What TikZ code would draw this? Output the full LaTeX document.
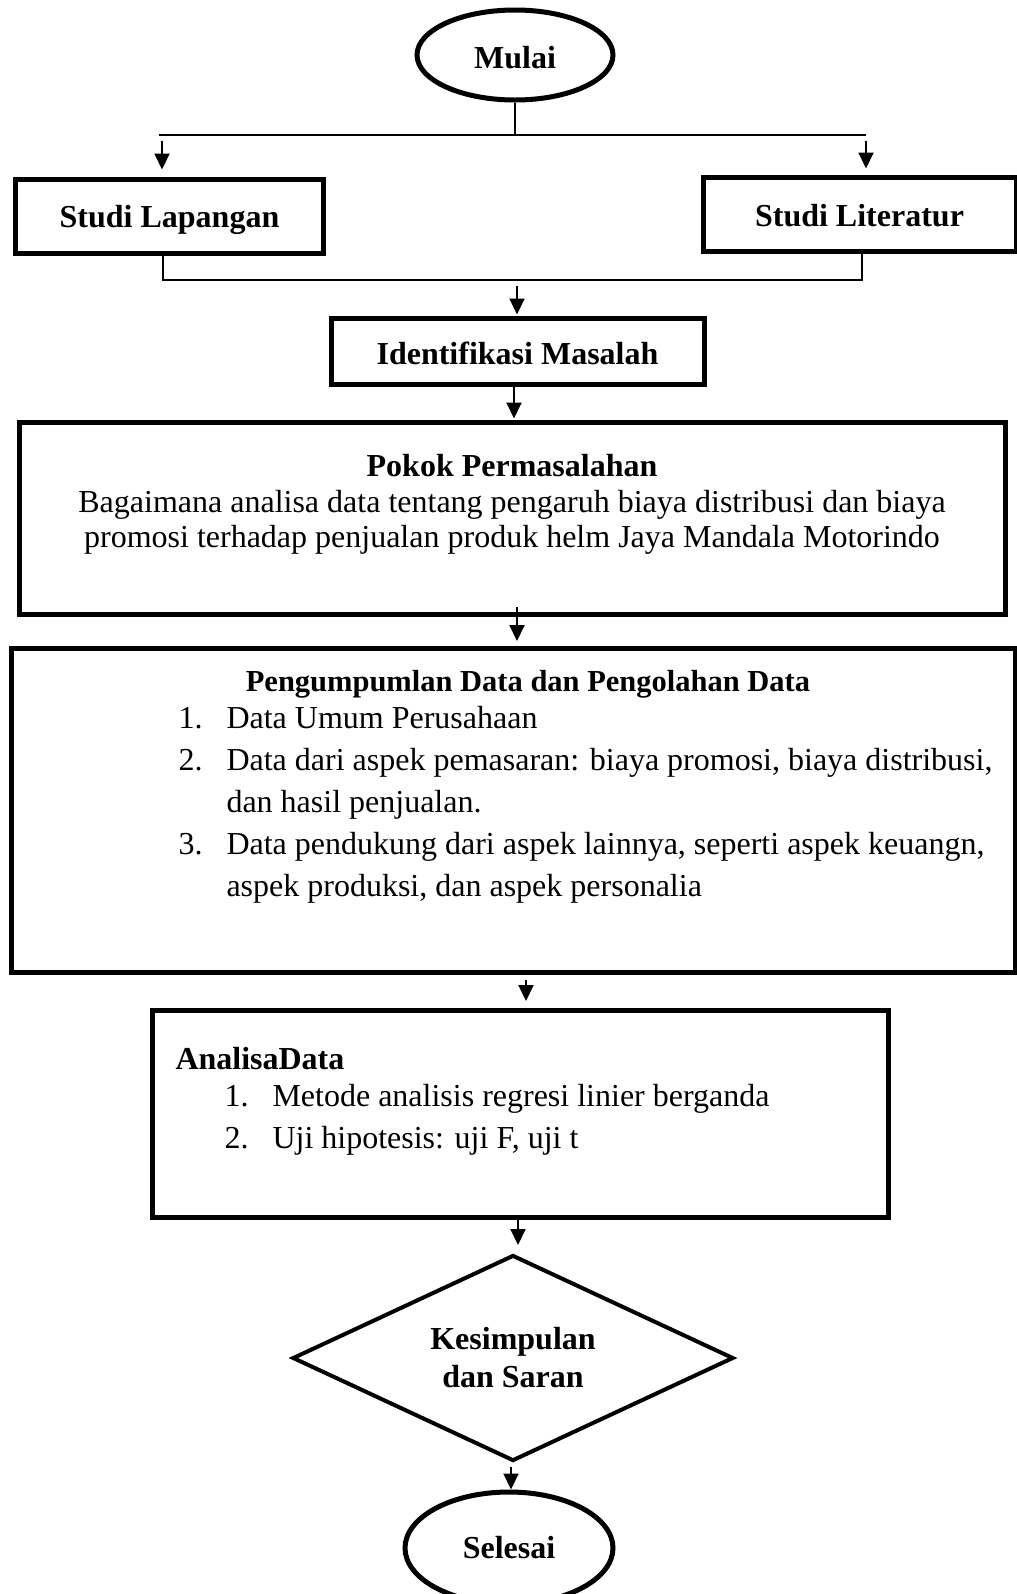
\documentclass[tikz,border=0pt]{standalone}
\usepackage{fontspec}
\setmainfont{Liberation Serif}
\usetikzlibrary{shapes.geometric,arrows.meta,calc}

% lower a label inside its node without changing the node size
\newcommand\lowered[2]{\raisebox{-#1}[\height][\depth]{#2}}

\begin{document}
\begin{tikzpicture}[x=0.4pt,y=-0.4pt,
  conn/.style={line width=0.8pt},
  arr/.style={conn,-{Triangle[length=6.4pt,width=6pt]}},
  frame/.style={draw,line width=2pt,inner sep=0pt},
  txt/.style={font=\fontsize{12.8}{15}\selectfont,inner sep=0pt},
  bold/.style={font=\fontsize{12.8}{15}\selectfont\bfseries,inner sep=0pt},
  term/.style={frame,ellipse,font=\fontsize{12.8}{15}\selectfont\bfseries},
]
\clip (0,0) rectangle (1017,1594);
\fill[white] (0,0) rectangle (1017,1594);

% terminals and process boxes
\node[term,minimum width=78.4pt,minimum height=36pt] (mulai) at (515,55) {\lowered{1.2pt}{Mulai}};
\node[frame,bold,minimum width=122.8pt,minimum height=29.6pt] (lap) at (169.5,216) {\lowered{1.6pt}{Studi Lapangan}};
\node[frame,bold,minimum width=125.2pt,minimum height=29.6pt] (lit) at (859.5,214) {\lowered{0.8pt}{Studi Literatur}};
\node[frame,bold,minimum width=149.2pt,minimum height=26.4pt] (idf) at (517.5,351) {\lowered{0.8pt}{Identifikasi Masalah}};
\node[frame,minimum width=394pt,minimum height=76.8pt] (pokok) at (512.5,518) {};
\node[frame,minimum width=401.2pt,minimum height=129.6pt] (peng) at (513.5,810) {};
\node[frame,minimum width=294pt,minimum height=82.6pt] (anal) at (520.5,1113.75) {};
\node[draw,diamond,shape aspect=2.17,line width=1.6pt,inner sep=0pt,minimum width=176.4pt,minimum height=82.4pt,
      align=center,font=\fontsize{12.8}{15.2}\selectfont\bfseries] (kes) at (513,1358) {Kesimpulan\\dan Saran};
\node[term,minimum width=83.2pt,minimum height=44.8pt] (selesai) at (509,1548) {Selesai};

% box contents
\node[bold,anchor=mid] (pokokT) at (512,471) {Pokok Permasalahan};
\node[txt,anchor=mid] (pokok1) at (512,507) {Bagaimana analisa data tentang pengaruh biaya distribusi dan biaya};
\node[txt,anchor=mid] (pokok2) at (512,542) {promosi terhadap penjualan produk helm Jaya Mandala Motorindo};

\node[bold,anchor=mid,font=\fontsize{12.2}{15}\selectfont\bfseries] (pengT) at (528,686) {Pengumpumlan Data dan Pengolahan Data};
\node[txt,anchor=mid west] (pn1) at (178,723) {1.};
\node[txt,anchor=mid west] (pt1) at (226,723) {Data Umum Perusahaan};
\node[txt,anchor=mid west] (pn2) at (178,765) {2.};
\node[txt,anchor=mid west] (pt2) at (226,765) {Data dari aspek pemasaran: biaya promosi, biaya distribusi,};
\node[txt,anchor=mid west] (pt2b) at (226,807) {dan hasil penjualan.};
\node[txt,anchor=mid west] (pn3) at (178,849) {3.};
\node[txt,anchor=mid west] (pt3) at (226,849) {Data pendukung dari aspek lainnya, seperti aspek keuangn,};
\node[txt,anchor=mid west] (pt3b) at (226,891) {aspek produksi, dan aspek personalia};

\node[bold,anchor=mid west] (analT) at (175,1064) {AnalisaData};
\node[txt,anchor=mid west] (an1) at (224,1101) {1.};
\node[txt,anchor=mid west] (at1) at (272,1101) {Metode analisis regresi linier berganda};
\node[txt,anchor=mid west] (an2) at (224,1143) {2.};
\node[txt,anchor=mid west] (at2) at (272,1143) {Uji hipotesis: uji F, uji t};

% branch from the start
\coordinate (bm) at (515,135);
\coordinate (sL) at (159,135);
\coordinate (sR) at (866,135);
\draw[conn] (mulai.south) -- (bm);
\draw[conn] (sL) -- (sR);
\coordinate (dL) at (162,135);
\draw[arr,shorten <=2.4pt,shorten >=2.8pt] (dL) -- (dL |- lap.north);
\draw[arr,shorten <=2.4pt,shorten >=2.4pt] (sR) -- (sR |- lit.north);

% join of the two studies
\coordinate (jL) at (163,280);
\coordinate (jR) at (862,280);
\draw[conn] (jL |- lap.south) -- (jL) -- (jR) -- (jR |- lit.south);
\coordinate (jm) at (517,286);
\draw[arr,shorten >=0.4pt] (jm) -- (jm |- idf.north);

% main flow
\coordinate (a1) at (514,386);
\draw[arr,shorten >=0.4pt] (a1) -- (a1 |- pokok.north);
\coordinate (a2) at (517,607);
\draw[arr,shorten >=1.8pt] (a2) -- (a2 |- peng.north);
\coordinate (a3) at (526,975);
\draw[arr,shorten <=1.8pt,shorten >=2.8pt] (a3) -- (a3 |- anal.north);
\coordinate (a4) at (518,1220);
\draw[arr,shorten >=3.2pt] (a4) -- (a4 |- kes.north);
\coordinate (a5) at (511,1461);
\draw[arr,shorten <=2.4pt] (a5) -- (a5 |- selesai.north);
\end{tikzpicture}
\end{document}
